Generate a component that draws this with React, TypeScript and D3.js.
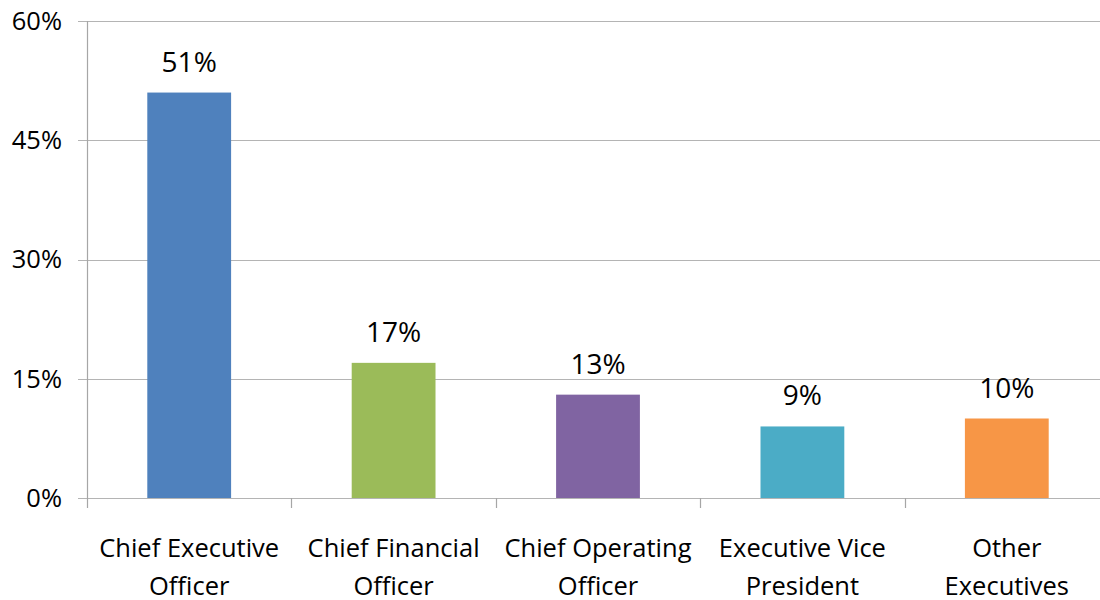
import React from "react";
import * as d3 from "d3";

const categories: string[][] = [
  ["Chief Executive", "Officer"],
  ["Chief Financial", "Officer"],
  ["Chief Operating", "Officer"],
  ["Executive Vice", "President"],
  ["Other", "Executives"],
];
const values: number[] = [51, 17, 13, 9, 10];
const barColors: string[] = ["#4F81BD", "#9BBB59", "#8064A2", "#4BACC6", "#F79646"];
const yTicks: number[] = [0, 15, 30, 45, 60];

const W = 1100;
const H = 600;
const left = 87;
const right = 1109;
const top = 21;
const bottom = 498;
const FONT = "'Open Sans', 'Noto Sans', sans-serif";

export default function App() {
  const idx = categories.map((_, i) => String(i));
  const x = d3.scaleBand<string>().domain(idx).range([left, right]).paddingInner(0.59).paddingOuter(0.295);
  const xb = d3.scaleBand<string>().domain(idx).range([left, right]);
  const y = d3.scaleLinear().domain([0, 60]).range([bottom, top]);

  return (
    <svg width={W} height={H} style={{ position: "absolute", left: 0, top: 0, background: "#fff" }} fontFamily={FONT}>
      {yTicks.map((t) => (
        <g key={t}>
          <line x1={left - 9} x2={W} y1={Math.round(y(t)) + 0.5} y2={Math.round(y(t)) + 0.5} stroke="#b4b4b4" strokeWidth={1.2} />
          <text x={62} y={y(t)} dy="0.35em" textAnchor="end" fontSize={25.5} fill="#000">
            {t}%
          </text>
        </g>
      ))}
      <line x1={left + 0.5} x2={left + 0.5} y1={top} y2={bottom + 10} stroke="#a6a6a6" strokeWidth={1.2} />
      {idx.map((k) => (
        <line key={"t" + k} x1={Math.round(xb(k)! + xb.bandwidth()) + 0.5} x2={Math.round(xb(k)! + xb.bandwidth()) + 0.5} y1={bottom} y2={bottom + 10} stroke="#a6a6a6" strokeWidth={1.2} />
      ))}
      {values.map((v, i) => (
        <g key={"b" + i}>
          <rect x={x(String(i))} y={y(v)} width={x.bandwidth()} height={bottom - y(v)} fill={barColors[i]} />
          <text x={x(String(i))! + x.bandwidth() / 2} y={y(v) - 21} textAnchor="middle" fontSize={28} fill="#000">
            {v}%
          </text>
        </g>
      ))}
      {categories.map((lines, i) => (
        <text key={"c" + i} textAnchor="middle" fontSize={25.5} fill="#000">
          {lines.map((l, j) => (
            <tspan key={j} x={xb(String(i))! + xb.bandwidth() / 2} y={557 + j * 38}>
              {l}
            </tspan>
          ))}
        </text>
      ))}
    </svg>
  );
}
